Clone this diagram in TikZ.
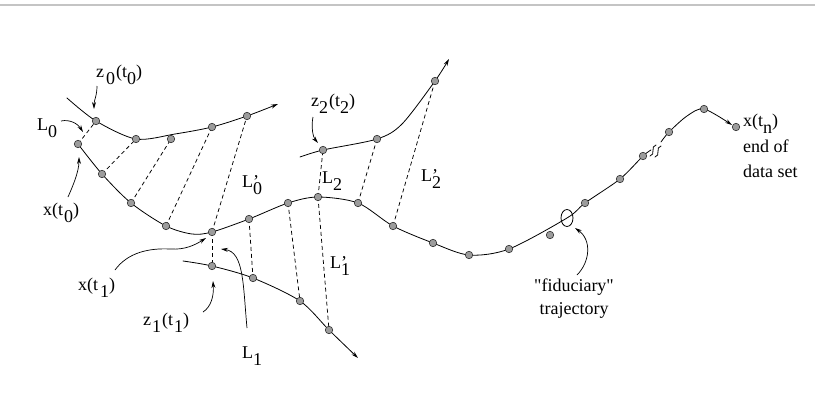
\documentclass[tikz,border=0pt]{standalone}
\usepackage{fontspec}
\setmainfont{Liberation Serif}
\newfontfamily\plainqt{Liberation Serif}
\usetikzlibrary{arrows.meta}
\newcommand\lowsub[1]{\raisebox{-0.42em}{#1}}

\begin{document}
\begin{tikzpicture}[x=1pt,y=-1pt,font=\fontsize{18}{25}\selectfont,
	dot/.style={circle,inner sep=0pt,minimum size=7.5pt,fill=trDot,draw=black!80,line width=0.6pt},
	traj/.style={line width=0.8pt,line cap=round},
	link/.style={line width=0.75pt,dash pattern=on 4pt off 3pt},
	lab/.style={inner sep=0pt,anchor=base west},
	callout/.style={line width=0.7pt,-{Stealth[length=7pt,width=4pt]}}]
\definecolor{trDot}{HTML}{9C9C9C}
\definecolor{trRule}{HTML}{C4C4C4}
\useasboundingbox (0,0) rectangle (815,394);
\draw[trRule,line width=1.6pt] (0,5) -- (815,5);

\foreach \n/\x/\y in {
	m1/78/144, m2/102/174, m3/131/203, m4/166/226, m5/212/232,
	m6/249/219, m7/288/203, m8/318/197, m9/358/203, m10/393/226,
	m11/433/243, m12/469/255, m13/509/249, m14/550/235, m15/585/203,
	m16/620/179, m17/643/156, m18/669/132, m19/704/109, m20/736/127,
	a1/96/121, a2/136/139, a3/171/139, a4/212/127, a5/247/116,
	b1/212/266, b2/253/278, b3/300/301, b4/329/330,
	c1/323/150, c2/377/139, c3/435/81, fid/567/218
} \coordinate (\n) at (\x,\y);

\draw[traj] plot[smooth] coordinates {(m1) (m2) (m3) (m4) (192,234) (m5) (m6) (m7) (m8) (m9)
	(m10) (m11) (m12) (m13) (fid) (m15) (m16) (m17) (651,150)};
\draw[traj,-{Stealth[length=7pt,width=4pt]}] plot[smooth] coordinates {(661,142) (m18) (687,116) (m19) (732,125)};
\draw[traj] (650,156) .. controls (656,155) and (650,146) .. (656,145);
\draw[traj] (655,157) .. controls (661,156) and (655,147) .. (661,146);
\draw[traj] (fid) ellipse [x radius=6,y radius=8.5];

\draw[traj,-{Stealth[length=7pt,width=4pt]}] plot[smooth] coordinates {(67,98) (a1) (a2) (175,134) (a4) (a5) (278,104)};
\draw[traj,-{Stealth[length=7pt,width=4pt]}] plot[smooth] coordinates {(183,261) (b1) (b2) (b3) (b4) (358,358)};
\draw[traj,-{Stealth[length=7pt,width=4pt]}] plot[smooth] coordinates {(300,157) (c1) (c2) (402,124) (c3) (449,59)};

\foreach \p/\q in {m1/a1, m2/a2, m3/a3, m4/a4, m5/a5, m5/b1, m6/b2, m7/b3, m8/b4, m8/c1, m9/c2, m10/c3}
	\draw[link] (\p) -- (\q);

\foreach \i in {1,...,20} \node[dot] (dm\i) at (m\i) {};
\foreach \i in {1,...,5} \node[dot] (da\i) at (a\i) {};
\foreach \i in {1,...,4} \node[dot] (db\i) at (b\i) {};
\foreach \i in {1,...,3} \node[dot] (dc\i) at (c\i) {};

\node[lab] (z0lab) at (96,77) {z\kern2pt\lowsub{0}\kern1pt(t\lowsub{0})};
\node[lab] (L0lab) at (37,130) {L\lowsub{0}};
\node[lab] (x0lab) at (43,215) {x(t\kern1pt\lowsub{0})};
\node[lab] (L0plab) at (242,187) {L\rlap{'}\lowsub{0}};
\node[lab] (z2lab) at (311,106) {z\lowsub{2}\kern1pt(t\lowsub{2})};
\node[lab] (L2lab) at (322,183) {L\lowsub{2}};
\node[lab] (L2plab) at (421,181) {L\rlap{'}\lowsub{2}};
\node[lab] (L1plab) at (330,268) {L\rlap{'}\lowsub{1}};
\node[lab] (x1lab) at (78,290) {x(t\kern2pt\lowsub{1})};
\node[lab] (z1lab) at (143,325) {z\kern1pt\lowsub{1}\kern1pt(t\kern1pt\lowsub{1})};
\node[lab] (L1lab) at (242,358) {L\lowsub{1}};
\node[lab] (xnlab) at (743,126) {x(t\lowsub{n})};
\node[lab,align=left,anchor=north west] (endlab) at (743,140) {end of\\data set};
\node[inner sep=0pt,align=center,anchor=north,font=\fontsize{18}{23}\selectfont] (fidlab) at (574,279)
	{{\plainqt"}fiduciary{\plainqt"}\\trajectory};

\foreach \n/\x/\y in {
	z0tail/97/86, z0tip/94/109, L0tail/61/121, L0tip/83/132,
	x0tail/68/197, x0tip/79/157, x1tail/115/270, x1mid/170/249, x1tip/206/238,
	z1tail/203/312, z1tip/213/281, L1tail/247/328, L1tip/221/249,
	fidtail/577/275, fidtip/575/228, z2tail/313/117, z2tip/318/143
} \coordinate (\n) at (\x,\y);

\draw[callout] (z0tail) .. controls (97,96) and (94,100) .. (z0tip);
\draw[callout] (L0tail) .. controls (70,119) and (78,124) .. (L0tip);
\draw[callout] (x0tail) .. controls (72,188) and (79,172) .. (x0tip);
\draw[callout] (x1tail) .. controls (128,252) and (150,248) .. (x1mid) .. controls (185,250) and (195,245) .. (x1tip);
\draw[callout] (z1tail) .. controls (211,307) and (214,296) .. (z1tip);
\draw[callout] (L1tail) .. controls (243,285) and (244,252) .. (L1tip);
\draw[callout] (fidtail) .. controls (590,262) and (592,240) .. (fidtip);
\draw[callout] (z2tail) .. controls (311,127) and (313,137) .. (z2tip);
\end{tikzpicture}
\end{document}
